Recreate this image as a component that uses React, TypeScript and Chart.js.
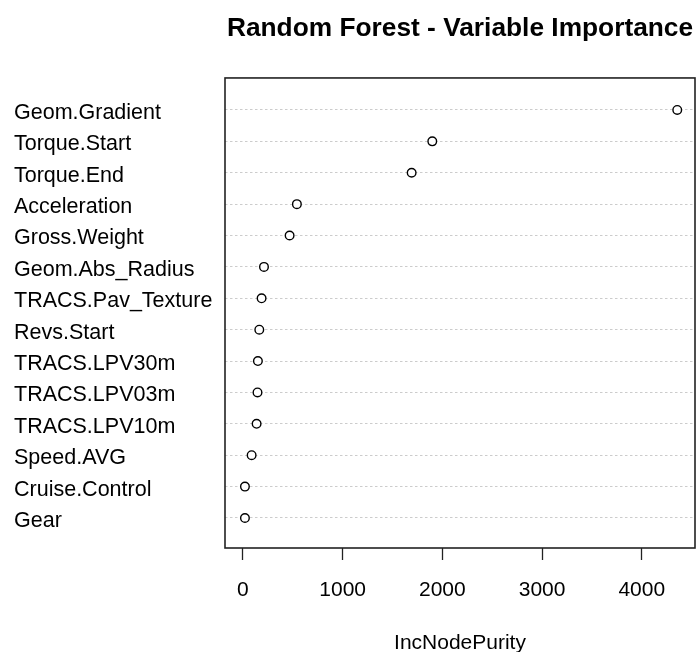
import React, { useEffect, useRef } from "react";
import { Chart, registerables } from "chart.js";

Chart.register(...registerables);

const variables = [
  "Geom.Gradient",
  "Torque.Start",
  "Torque.End",
  "Acceleration",
  "Gross.Weight",
  "Geom.Abs_Radius",
  "TRACS.Pav_Texture",
  "Revs.Start",
  "TRACS.LPV30m",
  "TRACS.LPV03m",
  "TRACS.LPV10m",
  "Speed.AVG",
  "Cruise.Control",
  "Gear",
];
const incNodePurity = [4356, 1899, 1692, 541, 468, 211, 187, 164, 150, 146, 137, 87, 20, 20];
const xTicks = [0, 1000, 2000, 3000, 4000];

const FONT = "'Liberation Sans', Arial, Helvetica, sans-serif";

const boxPlugin = {
  id: "box",
  afterDatasetsDraw(chart: any) {
    const { ctx, chartArea } = chart;
    ctx.save();
    ctx.strokeStyle = "#222";
    ctx.lineWidth = 1.6;
    ctx.strokeRect(chartArea.left, chartArea.top, chartArea.right - chartArea.left, chartArea.bottom - chartArea.top);
    ctx.restore();
  },
};

export default function App() {
  const ref = useRef<HTMLCanvasElement | null>(null);
  useEffect(() => {
    const n = variables.length;
    const points = variables.map((v, i) => ({ x: incNodePurity[i], y: n - i }));
    const chart = new Chart(ref.current as HTMLCanvasElement, {
      type: "scatter",
      data: {
        datasets: [
          {
            data: points,
            pointRadius: 4.3,
            pointBorderWidth: 1.4,
            pointBorderColor: "#000",
            pointBackgroundColor: "#fff",
            pointHoverRadius: 4.3,
          },
        ],
      },
      options: {
        animation: false,
        responsive: false,
        layout: { autoPadding: false, padding: { left: 14, right: 2, top: 0, bottom: 0 } },
        plugins: {
          legend: { display: false },
          tooltip: { enabled: false },
          title: {
            display: true,
            text: "Random Forest - Variable Importance",
            fullSize: false,
            color: "#000",
            font: { family: FONT, size: 26.3, weight: "bold", lineHeight: 1.2 },
            padding: { top: 13, bottom: 33.4 },
          },
        },
        scales: {
          x: {
            type: "linear",
            min: -180,
            max: 4534,
            afterBuildTicks: (s: any) => {
              s.ticks = xTicks.map((v) => ({ value: v }));
            },
            afterFit: (s: any) => {
              s.height = 104;
              s.paddingRight = 0;
              s.paddingLeft = 0;
            },
            border: { display: false },
            grid: {
              display: true,
              drawOnChartArea: false,
              drawTicks: true,
              tickLength: 12,
              tickColor: "#222",
              tickWidth: 1.3,
            },
            ticks: {
              color: "#000",
              padding: 0,
              maxRotation: 0,
              font: { family: FONT, size: 21, lineHeight: 2.86 },
              callback: (value: any) => String(value),
            },
            title: {
              display: true,
              text: "IncNodePurity",
              color: "#000",
              font: { family: FONT, size: 21, lineHeight: 1 },
              padding: { top: 0, bottom: -1.5 },
            },
          },
          y: {
            type: "linear",
            min: 0.044,
            max: 15.02,
            afterBuildTicks: (s: any) => {
              s.ticks = variables.map((v, i) => ({ value: n - i }));
            },
            afterFit: (s: any) => {
              s.width = 211;
            },
            border: { display: false, dash: [2.5, 2.5] },
            grid: {
              display: true,
              drawTicks: false,
              color: "#cccccc",
              lineWidth: 1,
            },
            ticks: {
              crossAlign: "far",
              labelOffset: 3,
              color: "#000",
              font: { family: FONT, size: 21.5, lineHeight: 1.2 },
              callback: (value: any) => {
                const idx = n - Math.round(Number(value));
                return variables[idx] ?? "";
              },
            },
          },
        },
      },
      plugins: [boxPlugin],
    } as any);
    return () => chart.destroy();
  }, []);
  return (
    <div style={{ position: "fixed", left: 0, top: 0, width: 697, height: 652, background: "#fff" }}>
      <canvas ref={ref} width={697} height={652} style={{ width: 697, height: 652, display: "block" }} />
    </div>
  );
}
